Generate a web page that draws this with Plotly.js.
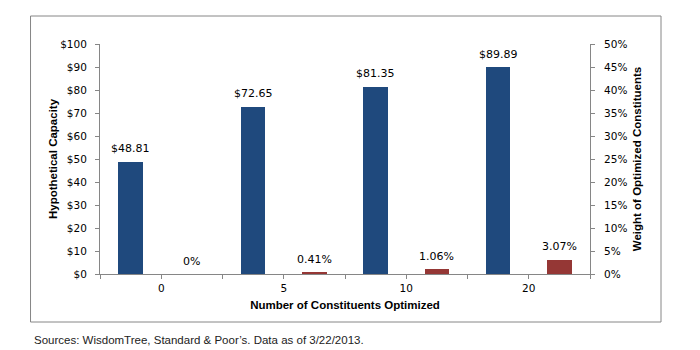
<!DOCTYPE html>
<html>
<head>
<meta charset="utf-8">
<script src="https://cdn.plot.ly/plotly-3.0.1.min.js"></script>
<style>
  html, body { margin: 0; padding: 0; background: #fff; }
  #chart { width: 700px; height: 350px; }
</style>
</head>
<body>
<div id="chart"></div>
<script>
// Number of constituents optimized (category labels)
const categories = ["0", "5", "10", "20"];
// Hypothetical capacity in dollars (left axis)
const capacity = [48.81, 72.65, 81.35, 89.89];
// Weight of optimized constituents in percent (right axis)
const weight = [0, 0.41, 1.06, 3.07];

// Each category owns two slots: capacity bar then weight bar.
const capX = categories.map((c, i) => i * 2);
const wtX = categories.map((c, i) => i * 2 + 1);

// Tick marks sit on every slot boundary; labels sit between each pair.
const tickVals = [];
const tickText = [];
for (let k = -1; k < categories.length * 2; k++) {
  tickVals.push(k + 0.5);
  tickText.push(k >= 0 && k % 2 === 0 ? categories[k / 2] : "");
}

const axisGray = "#868686";
const tickFont = { family: "DejaVu Sans, Verdana, sans-serif", size: 10.5, color: "#000" };
const titleFont = { family: "Liberation Sans, Arial, sans-serif", size: 11.5, color: "#000", weight: "bold" };

const traces = [
  {
    type: "bar", x: capX, y: capacity, yaxis: "y", width: 0.4,
    marker: { color: "#1F497D" }, hoverinfo: "skip", showlegend: false
  },
  {
    type: "bar", x: wtX, y: weight, yaxis: "y2", width: 0.4,
    marker: { color: "#953735" }, hoverinfo: "skip", showlegend: false
  }
];

const labelFont = { family: "DejaVu Sans, Verdana, sans-serif", size: 11, color: "#000" };
const annotations = [];
capacity.forEach((v, i) => annotations.push({
  x: capX[i], y: v, xref: "x", yref: "y", text: "$" + v.toFixed(2),
  showarrow: false, yanchor: "middle", yshift: 13, font: labelFont
}));
weight.forEach((v, i) => annotations.push({
  x: wtX[i], y: v, xref: "x", yref: "y2", text: v + "%",
  showarrow: false, yanchor: "middle", yshift: 13, font: labelFont
}));
annotations.push({
  xref: "paper", yref: "paper", x: -0.1388, y: -0.287, xanchor: "left", yanchor: "middle",
  text: "Sources: WisdomTree, Standard &amp; Poor\u2019s. Data as of 3/22/2013.",
  showarrow: false,
  font: { family: "Liberation Sans, Arial, sans-serif", size: 11.5, color: "#222" }
});

const layout = {
  width: 700, height: 350,
  margin: { l: 100, r: 110, t: 44, b: 76 },
  paper_bgcolor: "#fff", plot_bgcolor: "#fff",
  bargap: 0,
  xaxis: {
    range: [-0.5, categories.length * 2 - 0.5],
    tickmode: "array", tickvals: tickVals, ticktext: tickText,
    ticks: "outside", ticklen: 4, tickcolor: axisGray,
    showline: true, linecolor: axisGray, linewidth: 1,
    showgrid: false, zeroline: false, tickfont: tickFont,
    title: { text: "Number of Constituents Optimized", font: titleFont, standoff: 8 },
    fixedrange: true
  },
  yaxis: {
    range: [0, 100], dtick: 10, tickprefix: "$",
    ticks: "outside", ticklen: 4, tickcolor: axisGray,
    showline: true, linecolor: axisGray, linewidth: 1,
    showgrid: false, zeroline: false, tickfont: tickFont,
    ticklabelstandoff: 6,
    title: { text: "Hypothetical Capacity", font: titleFont, standoff: 0 },
    fixedrange: true
  },
  yaxis2: {
    overlaying: "y", side: "right",
    range: [0, 50], dtick: 5, ticksuffix: "%",
    ticks: "outside", ticklen: 4, tickcolor: axisGray,
    showline: true, linecolor: axisGray, linewidth: 1,
    showgrid: false, zeroline: false, tickfont: tickFont,
    ticklabelstandoff: 7,
    title: { text: "Weight of Optimized Constituents", font: titleFont, standoff: 6 },
    fixedrange: true
  },
  annotations: annotations,
  shapes: [{
    type: "rect", xref: "paper", yref: "paper",
    x0: -0.1418, x1: 1.1449, y0: -0.2087, y1: 1.1217,
    line: { color: axisGray, width: 1 }, fillcolor: "rgba(0,0,0,0)", layer: "below"
  }]
};

Plotly.newPlot("chart", traces, layout, { displayModeBar: false, staticPlot: true });
</script>
</body>
</html>
